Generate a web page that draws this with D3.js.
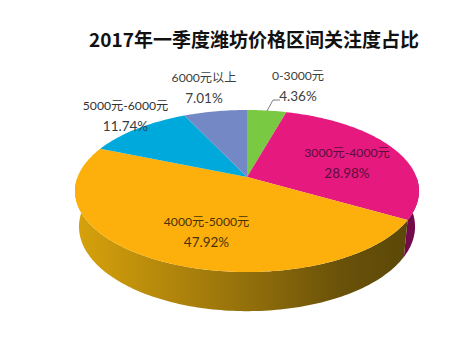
<!DOCTYPE html>
<html>
<head>
<meta charset="utf-8">
<script src="https://cdn.jsdelivr.net/npm/d3@7"></script>
<style>
  html, body { margin: 0; padding: 0; background: #fff; }
  text { font-family: Lato, "Noto Sans CJK SC", sans-serif; }
  .chart-title { font-family: "Noto Sans CJK SC", sans-serif; }
</style>
</head>
<body>
<div id="chart"></div>
<script>
const title = '2017年一季度潍坊价格区间关注度占比';
const categories = ['0-3000元', '3000元-4000元', '4000元-5000元', '5000元-6000元', '6000元以上'];
const shares = [4.36, 28.98, 47.92, 11.74, 7.01];
const shareLabels = ['4.36%', '28.98%', '47.92%', '11.74%', '7.01%'];
const topColors = ['#7ac943', '#e6197f', '#fdb00b', '#00a9dc', '#7488c5'];

const width = 472;
const height = 360;

const svg = d3.select('#chart')
  .append('svg')
  .attr('width', width)
  .attr('height', height);

const pie = d3.pie().sort(null)(shares);

// tilted disc with a bit of perspective, near edge looks bigger
const persp = 0.173;
function project(angle, disc) {
  const u = Math.sin(angle);
  const v = -Math.cos(angle);
  const w = 1 - persp * v;
  return [disc.cx + disc.rx * u / w, disc.cy + disc.ry * v / w];
}
const topDisc = { cx: 247, cy: 177, rx: 169.4, ry: 78.6 };
const baseDisc = { cx: 247, cy: 212, rx: 165.5, ry: 82 };

function arcPoints(a0, a1, disc) {
  const n = Math.max(2, Math.ceil((a1 - a0) / 0.02));
  return d3.range(n + 1).map(i => project(a0 + (a1 - a0) * i / n, disc));
}
const line = d3.line();

const defs = svg.append('defs');
const wallGrad = defs.append('linearGradient')
  .attr('id', 'wall-orange')
  .attr('gradientUnits', 'userSpaceOnUse')
  .attr('x1', 75).attr('x2', 405).attr('y1', 0).attr('y2', 0);
wallGrad.append('stop').attr('offset', '0%').attr('stop-color', '#d8a20c');
wallGrad.append('stop').attr('offset', '50%').attr('stop-color', '#96720b');
wallGrad.append('stop').attr('offset', '80%').attr('stop-color', '#6a5209');
wallGrad.append('stop').attr('offset', '100%').attr('stop-color', '#5c4808');

// side walls, only the part that faces us
const wallStart = Math.PI / 2;
const wallEnd = 1.5 * Math.PI;
const wallFills = ['none', '#740a4c', 'url(#wall-orange)', 'none', 'none'];
pie.forEach((d, i) => {
  const a0 = Math.max(d.startAngle, wallStart);
  const a1 = Math.min(d.endAngle, wallEnd);
  if (a1 <= a0 || wallFills[i] === 'none') return;
  const upper = arcPoints(a0, a1, topDisc);
  const lower = arcPoints(a0, a1, baseDisc).reverse();
  svg.append('path')
    .attr('d', line(upper.concat(lower)) + 'Z')
    .attr('fill', wallFills[i]);
});

// top face
const centre = [topDisc.cx, topDisc.cy];
svg.selectAll('.slice')
  .data(pie)
  .enter()
  .append('path')
  .attr('class', 'slice')
  .attr('d', d => line([centre].concat(arcPoints(d.startAngle, d.endAngle, topDisc))) + 'Z')
  .attr('fill', (d, i) => topColors[i]);

svg.append('text')
  .attr('class', 'chart-title')
  .attr('x', 254)
  .attr('y', 47)
  .attr('text-anchor', 'middle')
  .attr('font-size', 19)
  .attr('font-weight', 700)
  .attr('fill', '#111')
  .text(title);

// label anchors: name line baseline, centred on x
const labelX = [298, 347, 206.5, 125.5, 204];
const labelY = [79.5, 156.5, 225.5, 109.5, 81.5];
const labelColors = ['#404040', '#5a0f3c', '#4a3208', '#333', '#404040'];
const percentColors = ['#404040', '#5a0f3c', '#4a3208', '#2f3f48', '#404040'];

categories.forEach((c, i) => {
  svg.append('text')
    .attr('x', labelX[i])
    .attr('y', labelY[i])
    .attr('text-anchor', 'middle')
    .attr('font-size', 12.2)
    .attr('fill', labelColors[i])
    .text(c);
  svg.append('text')
    .attr('x', labelX[i])
    .attr('y', labelY[i] + 21)
    .attr('text-anchor', 'middle')
    .attr('font-size', 13.5)
    .attr('fill', percentColors[i])
    .text(shareLabels[i]);
});

// leader for the small green slice
svg.append('path')
  .attr('d', line([[267, 111], [273, 100], [280, 100]]))
  .attr('fill', 'none')
  .attr('stroke', '#7f7f7f')
  .attr('stroke-width', 1);
</script>
</body>
</html>
